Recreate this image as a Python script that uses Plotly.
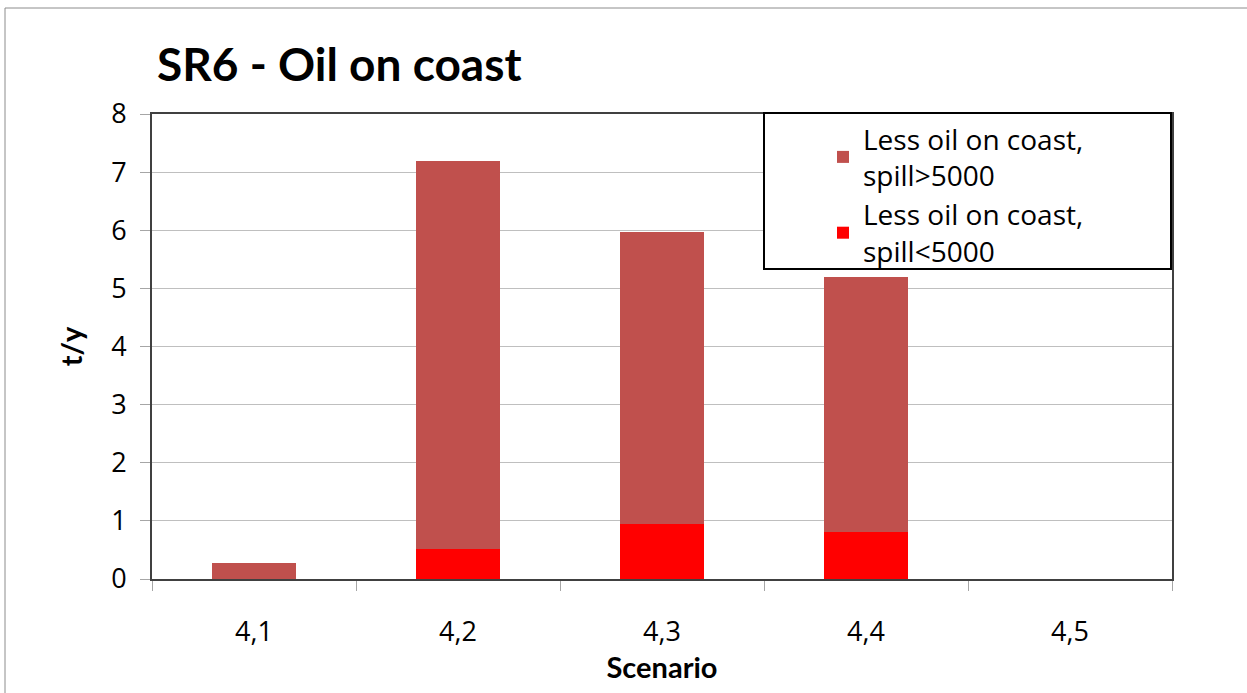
import plotly.graph_objects as go

# Scenario categories and the two stacked series (t/y)
scenarios = ["4,1", "4,2", "4,3", "4,4", "4,5"]
spill_small = [0.0, 0.52, 0.95, 0.81, 0.0]   # Less oil on coast, spill<5000
spill_large = [0.28, 6.68, 5.02, 4.38, 0.0]  # Less oil on coast, spill>5000
y_ticks = [0, 1, 2, 3, 4, 5, 6, 7, 8]

TITLE_FONT = "Lato"
TEXT_FONT = "Open Sans"

# plot area in pixels
L, R, T, B = 152, 1172, 114, 579
W, H = 1247, 693


def px_x(x):
    return (x - L) / (R - L)


def px_y(y):
    return (B - y) / (B - T)


fig = go.Figure()
fig.add_trace(go.Bar(
    x=scenarios, y=spill_small,
    name="Less oil on coast,<br>spill<5000",
    marker=dict(color="#FF0000", line=dict(width=0)),
))
fig.add_trace(go.Bar(
    x=scenarios, y=spill_large,
    name="Less oil on coast,<br>spill>5000",
    marker=dict(color="#C0504D", line=dict(width=0)),
))

fig.update_layout(
    width=W, height=H,
    margin=dict(l=L, r=W - R, t=T, b=H - B),
    barmode="stack",
    bargap=0.59,
    paper_bgcolor="white",
    plot_bgcolor="white",
    font=dict(family=TEXT_FONT, color="black"),
    showlegend=True,
    title=dict(
        text="<b>SR6 - Oil on coast</b>",
        font=dict(family=TITLE_FONT, size=46, color="black"),
        x=157 / W, xanchor="left",
        y=1 - 65 / H, yanchor="middle",
    ),
    legend=dict(
        x=px_x(823), xanchor="left", y=1.0, yanchor="top",
        traceorder="reversed",
        bgcolor="rgba(0,0,0,0)",
        borderwidth=0,
        font=dict(family=TEXT_FONT, size=28, color="black"),
        itemwidth=30,
    ),
    xaxis=dict(
        type="category",
        showgrid=False,
        showline=True, linecolor="#404040", linewidth=2, mirror=True,
        ticks="outside", tickson="boundaries", ticklen=10, tickcolor="#A6A6A6",
        tickfont=dict(family=TEXT_FONT, size=27, color="black"),
        ticklabelstandoff=28,
        title=dict(text="<b>Scenario</b>", font=dict(family=TITLE_FONT, size=29, color="black"), standoff=5),
        fixedrange=True,
    ),
    yaxis=dict(
        range=[0, 8],
        tickvals=y_ticks,
        showgrid=True, gridcolor="#BFBFBF", gridwidth=1,
        zeroline=False,
        showline=True, linecolor="#404040", linewidth=2, mirror=True,
        ticks="outside", ticklen=10, tickcolor="#A6A6A6",
        tickfont=dict(family=TEXT_FONT, size=27, color="black"),
        ticklabelstandoff=8,
        title=dict(text="<b>t/y</b>", font=dict(family=TITLE_FONT, size=29, color="black"), standoff=20),
        fixedrange=True,
    ),
)

# Legend frame (white panel with black border)
fig.add_shape(
    type="rect", xref="paper", yref="paper",
    x0=px_x(764), x1=px_x(1171), y0=px_y(269), y1=px_y(113),
    line=dict(color="black", width=2),
    fillcolor="white",
    layer="above",
)

# Outer chart frame
fig.add_shape(
    type="rect", xref="paper", yref="paper",
    x0=px_x(5), x1=px_x(1260), y0=px_y(710), y1=px_y(8),
    line=dict(color="#8C8C8C", width=1),
    fillcolor="rgba(0,0,0,0)",
    layer="below",
)

fig.write_html("out.html")
